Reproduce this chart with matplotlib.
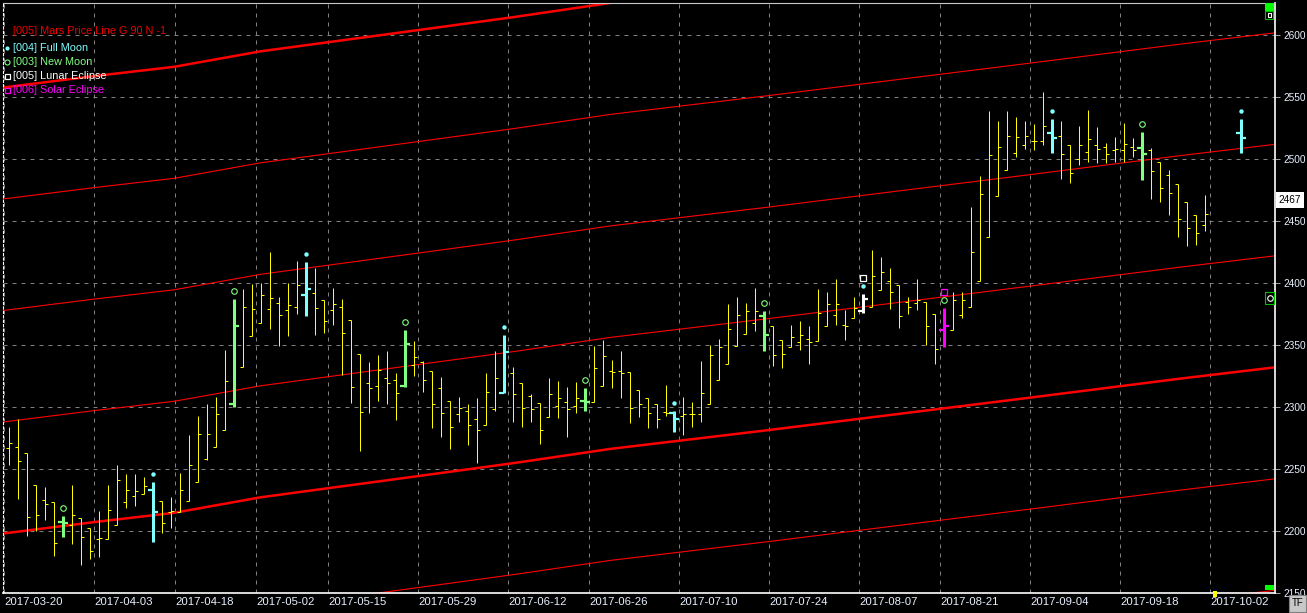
import numpy as np
import matplotlib.pyplot as plt
from matplotlib.lines import Line2D
from matplotlib.patches import Rectangle
from matplotlib.transforms import offset_copy, blended_transform_factory

plt.rcParams['font.family'] = ['Liberation Sans', 'DejaVu Sans']

# one bar per trading day, None = no bar (3 empty days before the projected last bar)
opens = [2267, 2268, 2263, 2237, 2225, 2223, 2207, 2205, 2210, 2202,
         2193, 2193, 2205, 2223, 2228, 2230, 2233, 2224, 2215, 2215,
         2224, 2239, 2258, 2268, 2281, 2302, 2332, 2357, 2368, 2379,
         2384, 2378, 2381, 2390, 2392, 2386, 2378, 2381, 2370, 2343,
         2319, 2317, 2323, 2322, 2317, 2334, 2336, 2329, 2315, 2305,
         2294, 2297, 2290, 2285, 2298, 2311, 2327, 2319, 2309, 2303,
         2292, 2301, 2304, 2301, 2305, 2304, 2317, 2329, 2329, 2328,
         2314, 2307, 2302, 2296, 2295, 2293, 2294, 2294, 2302, 2322,
         2335, 2349, 2359, 2368, 2373, 2365, 2354, 2348, 2352, 2355,
         2353, 2365, 2374, 2366, 2372, 2377, 2381, 2394, 2402, 2398,
         2385, 2384, 2385, 2375, 2362, 2362, 2374, 2381, 2402, 2437,
         2470, 2491, 2505, 2511, 2515, 2515, 2521, 2519, 2511, 2500,
         2506, 2511, 2510, 2507, 2507, 2510, 2509, 2507, 2498, 2487,
         2480, 2465, 2455, 2447, None, None, None, 2521]
highs = [2284, 2290, 2263, 2237, 2235, 2223, 2212, 2237, 2210, 2202,
         2216, 2237, 2253, 2246, 2246, 2243, 2239, 2224, 2227, 2247,
         2277, 2293, 2302, 2308, 2346, 2387, 2395, 2399, 2400, 2425,
         2389, 2400, 2418, 2417, 2412, 2386, 2396, 2387, 2370, 2343,
         2336, 2342, 2345, 2327, 2362, 2353, 2337, 2329, 2324, 2305,
         2308, 2302, 2307, 2327, 2345, 2358, 2332, 2319, 2310, 2303,
         2323, 2321, 2316, 2320, 2315, 2349, 2354, 2338, 2345, 2328,
         2314, 2307, 2302, 2318, 2297, 2308, 2304, 2337, 2350, 2355,
         2383, 2389, 2384, 2396, 2377, 2365, 2354, 2366, 2369, 2365,
         2395, 2393, 2403, 2378, 2389, 2391, 2427, 2421, 2412, 2398,
         2389, 2403, 2385, 2375, 2380, 2393, 2393, 2461, 2486, 2539,
         2531, 2539, 2534, 2531, 2528, 2554, 2532, 2531, 2511, 2527,
         2540, 2526, 2513, 2518, 2529, 2517, 2522, 2509, 2498, 2491,
         2480, 2465, 2455, 2471, None, None, None, 2532]
lows = [2253, 2226, 2196, 2200, 2209, 2180, 2195, 2189, 2172, 2177,
        2179, 2193, 2205, 2218, 2220, 2230, 2191, 2198, 2202, 2215,
        2224, 2239, 2257, 2268, 2281, 2300, 2332, 2357, 2368, 2363,
        2349, 2357, 2375, 2373, 2358, 2360, 2366, 2326, 2303, 2264,
        2295, 2305, 2302, 2289, 2316, 2325, 2312, 2283, 2276, 2266,
        2288, 2269, 2255, 2285, 2297, 2311, 2288, 2284, 2288, 2270,
        2292, 2291, 2276, 2295, 2297, 2304, 2317, 2315, 2307, 2287,
        2292, 2283, 2283, 2293, 2280, 2277, 2284, 2288, 2302, 2322,
        2335, 2349, 2359, 2361, 2345, 2333, 2331, 2348, 2346, 2335,
        2353, 2365, 2366, 2354, 2372, 2376, 2381, 2394, 2379, 2364,
        2375, 2378, 2350, 2335, 2348, 2362, 2372, 2381, 2402, 2437,
        2470, 2491, 2502, 2508, 2507, 2511, 2505, 2484, 2481, 2495,
        2498, 2497, 2497, 2498, 2498, 2502, 2483, 2468, 2465, 2455,
        2437, 2430, 2431, 2442, None, None, None, 2505]
closes = [2271, 2256, 2211, 2213, 2222, 2190, 2206, 2213, 2195, 2184,
          2194, 2217, 2241, 2233, 2232, 2236, 2215, 2206, 2216, 2233,
          2253, 2278, 2278, 2294, 2321, 2365, 2381, 2379, 2390, 2388,
          2374, 2382, 2398, 2395, 2380, 2369, 2383, 2360, 2316, 2296,
          2315, 2330, 2319, 2311, 2351, 2340, 2322, 2302, 2295, 2284,
          2299, 2285, 2281, 2312, 2323, 2344, 2310, 2299, 2298, 2281,
          2310, 2307, 2298, 2307, 2304, 2331, 2341, 2328, 2327, 2299,
          2302, 2295, 2290, 2295, 2290, 2294, 2294, 2311, 2342, 2348,
          2363, 2374, 2377, 2377, 2358, 2342, 2343, 2356, 2358, 2352,
          2376, 2383, 2383, 2365, 2380, 2387, 2406, 2409, 2393, 2373,
          2381, 2386, 2365, 2347, 2365, 2386, 2386, 2425, 2472, 2503,
          2510, 2519, 2518, 2519, 2515, 2527, 2517, 2504, 2489, 2511,
          2516, 2508, 2504, 2508, 2512, 2507, 2504, 2490, 2477, 2473,
          2452, 2444, 2440, 2456, None, None, None, 2517]

full_moon = [16, 33, 55, 74, 95, 116, 137]
new_moon = [6, 25, 44, 64, 84, 104, 126]
lunar_eclipse = [95]
solar_eclipse = [104]

# first bar of each labelled date
date_bar = [0, 10, 19, 28, 36, 46, 56, 65, 75, 85, 95, 104, 114, 124, 134]
date_text = ['2017-03-20', '2017-04-03', '2017-04-18', '2017-05-02', '2017-05-15',
             '2017-05-29', '2017-06-12', '2017-06-26', '2017-07-10', '2017-07-24',
             '2017-08-07', '2017-08-21', '2017-09-04', '2017-09-18', '2017-10-02']

# Mars price line read at a few points, plus its 90-step harmonics
mars_bar = [-0.6, 9.4, 18.4, 28, 46.9, 56.3, 66.9, 84.6, 113, 130.2, 140.7]
mars_price = [2197.8, 2206.9, 2214.5, 2227, 2245.5, 2254.8, 2266.1, 2281.4, 2307, 2322.8, 2331.9]
harmonics = [360, 270, 180, 90, 0, -90, -180]

last_price = 2467

o = np.array(opens, dtype=float)
h = np.array(highs, dtype=float)
l = np.array(lows, dtype=float)
c = np.array(closes, dtype=float)
x = np.arange(len(o))

W, H = 1307, 613
fig = plt.figure(figsize=(W / 100, H / 100), dpi=100, facecolor='black')
ax = fig.add_axes([3.3 / W, 20.3 / H, 1271.4 / W, 589.7 / H], facecolor='black')
ax.set_xlim(-0.59, 140.7)
ax.set_ylim(2150, 2626)

# grid
ax.set_axisbelow(True)
ax.grid(True, color='#808080', lw=0.72, ls=(0, (4, 5)))

# red price lines
mp = np.array(mars_price)
for hm in harmonics:
    thick = hm % 360 == 0
    ax.plot(mars_bar, mp + hm, color='#ff0000', lw=1.8 if thick else 0.8, zorder=2)

# colour per bar
colors = ['#ffff00'] * len(x)
for i in full_moon:
    colors[i] = '#80ffff'
for i in new_moon:
    colors[i] = '#80ff80'
for i in lunar_eclipse:
    colors[i] = '#ffffff'
for i in solar_eclipse:
    colors[i] = '#ff00ff'
special = set(full_moon + new_moon)

def draw_bar(i):
    if np.isnan(h[i]):
        return
    big = i in special
    lw = 2.16 if big else 0.72
    ms = 3.6 if big else 2.2
    mew = 1.6 if big else 0.72
    ax.vlines(x[i], l[i], h[i], color=colors[i], lw=lw, zorder=3)
    ax.plot(x[i], o[i], ls='none', marker=0, ms=ms, mew=mew, color=colors[i], zorder=3)
    ax.plot(x[i], c[i], ls='none', marker=1, ms=ms, mew=mew, color=colors[i], zorder=3)

for i in x:
    draw_bar(i)

# event markers above the high
above1 = offset_copy(ax.transData, fig=fig, x=0, y=8, units='dots')
above2 = offset_copy(ax.transData, fig=fig, x=0, y=16, units='dots')
ax.plot(x[full_moon], h[full_moon], ls='none', marker='o', ms=3.2, color='#80ffff', mew=0,
        transform=above1, zorder=4)
ax.plot(x[new_moon], h[new_moon], ls='none', marker='o', ms=4.0, mfc='none',
        mec='#80ff80', mew=0.8, transform=above1, zorder=4)
ax.plot(x[lunar_eclipse], h[lunar_eclipse], ls='none', marker='s', ms=4.0, mfc='none',
        mec='#ffffff', mew=0.9, transform=above2, zorder=4)
ax.plot(x[solar_eclipse], h[solar_eclipse], ls='none', marker='s', ms=4.0, mfc='none',
        mec='#ff00ff', mew=0.9, transform=above2, zorder=4)

# axes styling
for side in ['bottom', 'right']:
    ax.spines[side].set_color('white')
    ax.spines[side].set_linewidth(1.2)
ax.spines['top'].set_color('#c8c8c8')
ax.spines['top'].set_linewidth(0.8)
ax.spines['left'].set_color('white')
ax.spines['left'].set_linewidth(0.8)
ax.spines['left'].set_linestyle((0, (2, 2)))

ax.yaxis.tick_right()
ax.set_yticks(range(2150, 2601, 50))
ax.tick_params(axis='y', colors='#a0a0a0', length=3.6, width=0.72, pad=3.0,
               labelcolor='#e8f0ff', labelsize=7.3)
ax.set_xticks([b - 0.5 for b in date_bar])
ax.set_xticklabels(date_text, ha='left')
ax.tick_params(axis='x', length=0, pad=3.0, labelcolor='#e8f0ff', labelsize=8.2)

# last price tag
ax.annotate(str(last_price), xy=(1, last_price),
            xycoords=blended_transform_factory(ax.transAxes, ax.transData),
            xytext=(4, 0), textcoords='offset pixels', ha='left', va='center',
            color='black', fontsize=7.3,
            bbox=dict(boxstyle='square,pad=0.25', fc='white', ec='none'))

# legend (top left)
entries = [('[005] Mars Price Line G 90 N -1', '#ee0000', None, 30.5),
           ('[004] Full Moon', '#80ffff', 'dot', 48),
           ('[003] New Moon', '#80ff80', 'circle', 62),
           ('[005] Lunar Eclipse', '#ffffff', 'square', 76),
           ('[006] Solar Eclipse', '#ff00ff', 'square', 90)]
for text, col, mk, py in entries:
    fig.text(13.3 / W, 1 - py / H, text, color=col, fontsize=7.8, va='center', ha='left')
    if mk == 'dot':
        fig.add_artist(Line2D([6.7 / W], [1 - py / H], transform=fig.transFigure,
                              marker='o', ms=3.0, color=col, mew=0))
    elif mk == 'circle':
        fig.add_artist(Line2D([6.7 / W], [1 - py / H], transform=fig.transFigure,
                              marker='o', ms=3.6, mfc='none', mec=col, mew=0.8))
    elif mk == 'square':
        fig.add_artist(Line2D([6.7 / W], [1 - py / H], transform=fig.transFigure,
                              marker='s', ms=3.6, mfc='none', mec=col, mew=0.9))

# small widgets around the frame
def box(px, py, pw, ph, **kw):
    fig.add_artist(Rectangle((px / W, 1 - (py + ph) / H), pw / W, ph / H,
                             transform=fig.transFigure, **kw))

box(1265, 3, 9, 8, fc='#00ff00', ec='none')
box(1265, 11, 8, 8, fc='black', ec='#00c000', lw=0.8)
box(1267.5, 13.5, 3, 3, fc='none', ec='white', lw=0.8)
box(1265, 292, 9, 12, fc='black', ec='#00c000', lw=0.8)
fig.add_artist(Line2D([1269.5 / W], [1 - 298 / H], transform=fig.transFigure,
                      marker='o', ms=4, mfc='none', mec='white', mew=0.8))
box(1265, 585, 9, 5, fc='#00ff00', ec='none')
box(1213, 591, 4, 6, fc='#ffff00', ec='none')
box(1289, 595, 17, 17, fc='#c8c8c8', ec='#808080', lw=0.8)
fig.text(1297.5 / W, 1 - 603.5 / H, 'TF', color='black', fontsize=7, ha='center', va='center')

fig.savefig('out.png', dpi=100, facecolor='black')
